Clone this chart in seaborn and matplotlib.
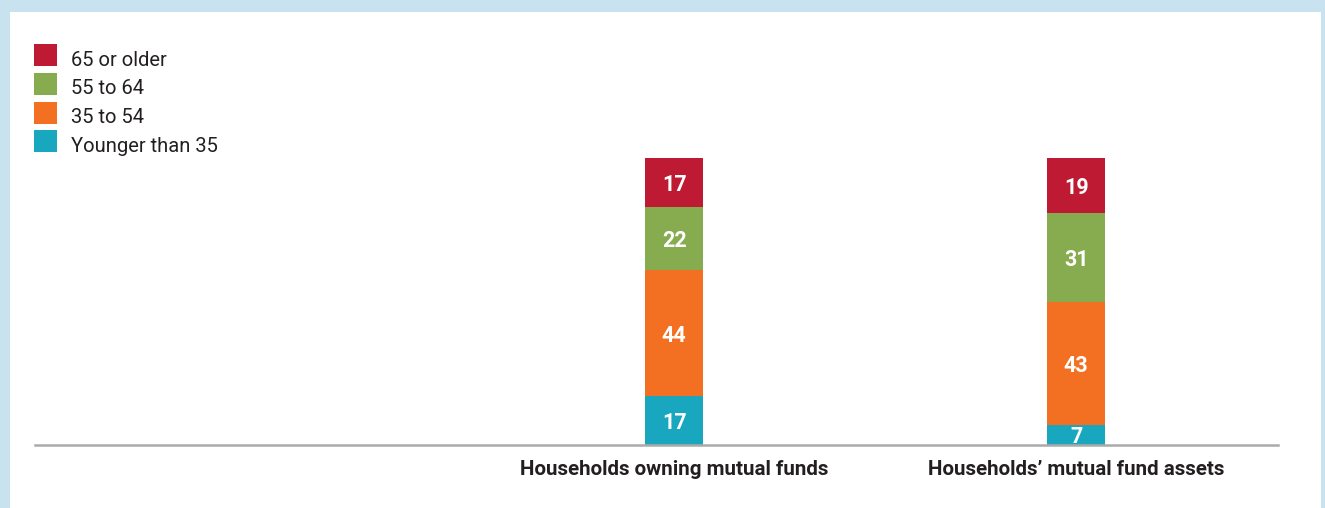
import matplotlib
matplotlib.use("Agg")
import matplotlib.pyplot as plt
from matplotlib.patches import Rectangle
from matplotlib.legend_handler import HandlerPatch
import seaborn as sns
import pandas as pd
import numpy as np

# ---- data ----
categories = ["Households owning mutual funds", "Households\u2019 mutual fund assets"]
groups = ["Younger than 35", "35 to 54", "55 to 64", "65 or older"]  # bottom -> top
younger_35 = [17, 7]
age_35_54 = [44, 43]
age_55_64 = [22, 31]
age_65_plus = [17, 19]
colors = {"65 or older": "#BE1A33", "55 to 64": "#87AC50",
          "35 to 54": "#F37022", "Younger than 35": "#19A6BF"}

series = [younger_35, age_35_54, age_55_64, age_65_plus]

sns.set_theme(style="white")
plt.rcParams["font.family"] = ["Roboto", "DejaVu Sans"]

rows = []
bottoms = np.zeros(len(categories))
segments = []
for g, vals in zip(groups, series):
    vals = np.array(vals, dtype=float)
    top = bottoms + vals
    for i, c in enumerate(categories):
        rows.append({"category": c, "group": g, "cum": top[i]})
        segments.append((i, bottoms[i], vals[i]))
    bottoms = top
df = pd.DataFrame(rows)

W, H = 1325, 508
fig = plt.figure(figsize=(W / 100, H / 100), dpi=100)
fig.patch.set_facecolor("#C8E3EF")
bg = Rectangle((10 / W, 0), (1321 - 10) / W, (508 - 12) / H,
               transform=fig.transFigure, facecolor="white",
               edgecolor="none", zorder=-10)
fig.patches.append(bg)

ax = fig.add_axes([35 / W, 63 / H, 1243 / W, 287 / H])
ax.set_zorder(5)
ax.set_facecolor("none")

hue_order = ["65 or older", "55 to 64", "35 to 54", "Younger than 35"]
sns.barplot(data=df, x="category", y="cum", hue="group", hue_order=hue_order,
            order=categories, palette=colors, dodge=False, width=0.144,
            saturation=1, ax=ax, edgecolor="none", linewidth=0)

for i, b, v in segments:
    ax.text(i, b + v / 2, f"{int(v)}", ha="center", va="center_baseline",
            color="white", fontsize=15.5, fontweight="semibold")

ax.set_xlim(-1.590, 1.502)
ax.set_ylim(0, 100)
ax.set_xlabel("")
ax.set_ylabel("")
ax.set_yticks([])
for s in ["top", "right", "left"]:
    ax.spines[s].set_visible(False)
ax.spines["bottom"].set_color("#AAAAAA")
ax.spines["bottom"].set_linewidth(1.8)
ax.tick_params(axis="x", length=0, pad=11, labelsize=14.8, labelcolor="#231F20")
for lab in ax.get_xticklabels():
    lab.set_fontweight("bold")

SQ = 22 * 72 / 100  # square height in points


def square(legend, orig_handle, xdescent, ydescent, width, height, fontsize):
    return Rectangle((-xdescent, -0.7), width, SQ)


handles, labels = ax.get_legend_handles_labels()
ax.legend(handles, labels, loc="upper left",
          bbox_to_anchor=(34 / W, 1 - 49 / H), bbox_transform=fig.transFigure,
          frameon=False, fontsize=14.5, handlelength=1.15, handleheight=1.1,
          handletextpad=0.68, labelspacing=0.405, borderpad=0, borderaxespad=0,
          labelcolor="#231F20",
          handler_map={matplotlib.patches.Rectangle: HandlerPatch(patch_func=square)})

fig.savefig("out.png", dpi=100, facecolor=fig.get_facecolor())
